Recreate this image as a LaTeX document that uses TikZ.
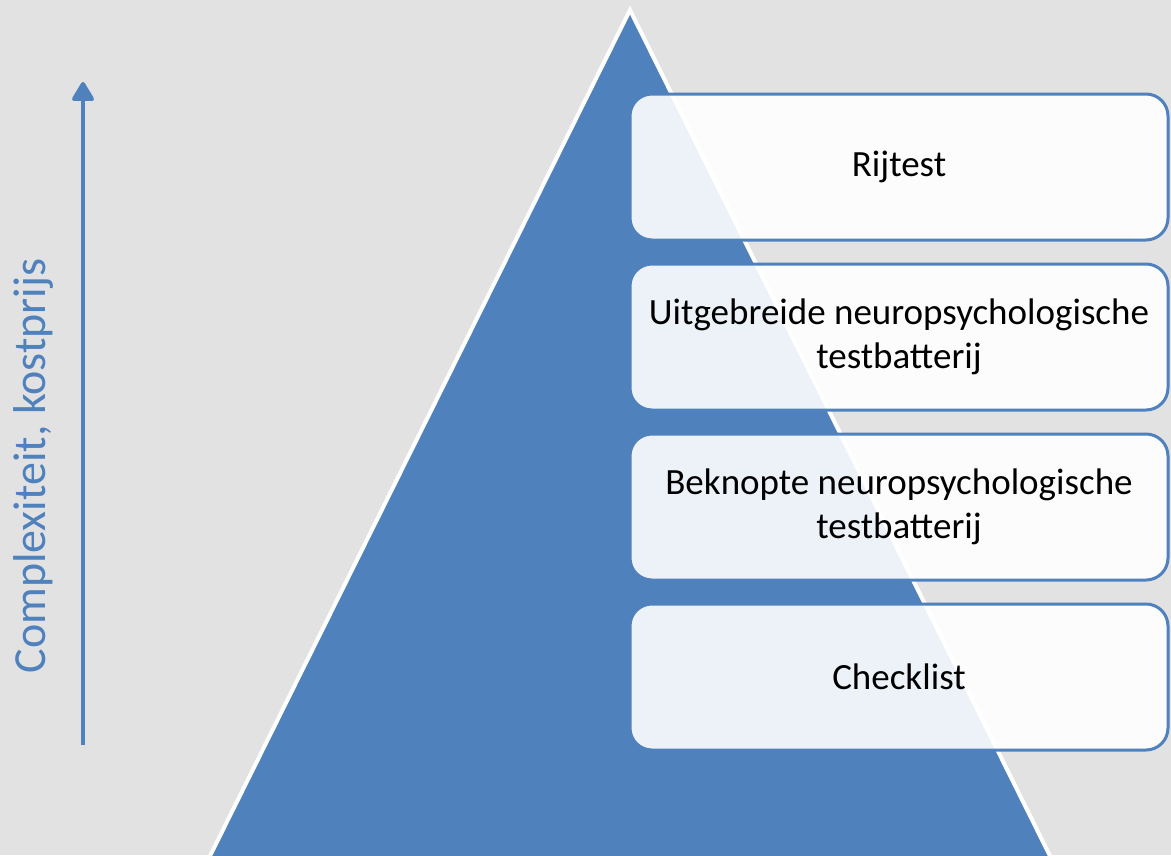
\documentclass[tikz,border=0pt]{standalone}
\usepackage{fontspec}
\setmainfont{Carlito}
\usetikzlibrary{arrows.meta, positioning}
\definecolor{pyrblue}{RGB}{79,129,189}
\definecolor{bggray}{RGB}{226,226,226}

\begin{document}
\begin{tikzpicture}[x=1pt, y=-1pt,
    level/.style={draw=pyrblue, line width=3pt, fill=white, fill opacity=0.9, text opacity=1, rounded corners=22pt, minimum width=538pt, minimum height=146pt, inner sep=0pt, outer sep=0pt, align=center, anchor=north west, font=\fontsize{37}{44}\selectfont},
    axis/.style={-{Triangle[length=21pt, width=24pt, round]}, line width=4pt, draw=pyrblue}
]
    \fill[bggray] (0,0) rectangle (1171,855);
    \useasboundingbox (0,0) rectangle (1171,855);
    \clip (0,0) rectangle (1171,855);

    % pyramid
    \coordinate (apex) at (630,10);
    \filldraw[fill=pyrblue, draw=white, line width=4pt, line join=miter] (208,860) -- (apex) -- (1052,860) -- cycle;

    % levels, bottom to top
    \node[level] (check) at (630,604) {Checklist};
    \node[level, above=24pt of check.north west, anchor=south west] (short) {Beknopte neuropsychologische\\testbatterij};
    \node[level, above=24pt of short.north west, anchor=south west] (long) {Uitgebreide neuropsychologische\\testbatterij};
    \node[level, above=24pt of long.north west, anchor=south west] (drive) {Rijtest};

    % axis
    \coordinate (low) at (83,745);
    \coordinate (high) at (83,82);
    \draw[axis] (low) -- (high);
    \node[rotate=90, text=pyrblue, font=\fontsize{46}{54}\selectfont] (label) at (33,466) {Complexiteit, kostprijs};
\end{tikzpicture}
\end{document}
